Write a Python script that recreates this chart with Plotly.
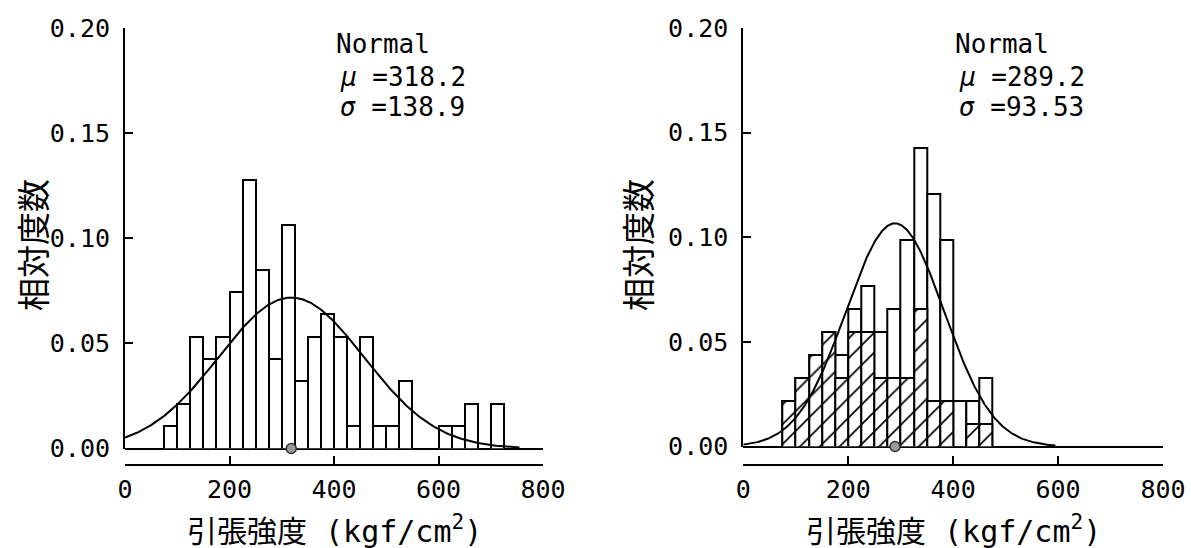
import numpy as np
import plotly.graph_objects as go

# ---- data -------------------------------------------------------------
bin_width = 25

# left sample: tensile-strength histogram (counts per 25 kgf/cm2 bin)
left_bin_start = [75, 100, 125, 150, 175, 200, 225, 250, 275, 300, 325, 350, 375,
                  400, 425, 450, 475, 500, 525, 550, 575, 600, 625, 650, 675, 700]
left_counts = [1, 2, 5, 4, 5, 7, 12, 8, 4, 10, 3, 5, 6,
               5, 1, 5, 1, 1, 3, 0, 0, 1, 1, 2, 0, 2]
left_mu, left_sigma = 318.2, 138.9
left_curve_end = 755

# right sample: total counts and the hatched sub-group
right_bin_start = [75, 100, 125, 150, 175, 200, 225, 250, 275, 300, 325, 350, 375,
                   400, 425, 450]
right_total = [2, 3, 4, 5, 4, 6, 7, 5, 6, 9, 13, 11, 9, 2, 2, 3]
right_hatched = [2, 3, 4, 5, 3, 5, 5, 3, 3, 3, 6, 2, 2, 0, 1, 1]
right_mu, right_sigma = 289.2, 93.53
right_curve_end = 595

x_ticks = [0, 200, 400, 600, 800]
y_ticks = [0.00, 0.05, 0.10, 0.15, 0.20]
y_title = "相対度数"
x_title = "引張強度 (kgf/cm<sup>2</sup>)"

# ---- figure -----------------------------------------------------------
W, H = 1191, 548
MONO = "DejaVu Sans Mono, Noto Sans CJK JP"
CJK = "Noto Sans CJK JP"


def px_x(p):
    return p / W


def px_y(p):
    return 1 - p / H


def normal_curve(mu, sigma, x_end):
    x = np.linspace(0, x_end, 400)
    y = bin_width * np.exp(-0.5 * ((x - mu) / sigma) ** 2) / (sigma * np.sqrt(2 * np.pi))
    return x, y


fig = go.Figure()

bar_line = dict(color="black", width=2)
marker_dot = dict(size=10, color="#9a9a9a", line=dict(color="#333", width=1.5))

# left panel
n_left = sum(left_counts)
fig.add_trace(go.Bar(
    x=[s + bin_width / 2 for s in left_bin_start],
    y=[c / n_left for c in left_counts],
    width=bin_width, marker=dict(color="white", line=bar_line),
    xaxis="x", yaxis="y", showlegend=False))
cx, cy = normal_curve(left_mu, left_sigma, left_curve_end)
fig.add_trace(go.Scatter(x=cx, y=cy, mode="lines", line=dict(color="black", width=2),
                         xaxis="x", yaxis="y", showlegend=False))
fig.add_trace(go.Scatter(x=[left_mu], y=[0], mode="markers", cliponaxis=False,
                         marker=marker_dot, xaxis="x", yaxis="y", showlegend=False))

# right panel
n_right = sum(right_total)
fig.add_trace(go.Bar(
    x=[s + bin_width / 2 for s in right_bin_start],
    y=[c / n_right for c in right_total],
    width=bin_width, marker=dict(color="white", line=bar_line),
    xaxis="x2", yaxis="y2", showlegend=False))
fig.add_trace(go.Bar(
    x=[s + bin_width / 2 for s in right_bin_start],
    y=[c / n_right for c in right_hatched],
    width=bin_width,
    marker=dict(color="white", line=bar_line,
                pattern=dict(shape="/", fgcolor="black", bgcolor="white",
                             fgopacity=1, size=14, solidity=0.12)),
    xaxis="x2", yaxis="y2", showlegend=False))
cx, cy = normal_curve(right_mu, right_sigma, right_curve_end)
fig.add_trace(go.Scatter(x=cx, y=cy, mode="lines", line=dict(color="black", width=2),
                         xaxis="x2", yaxis="y2", showlegend=False))
fig.add_trace(go.Scatter(x=[right_mu], y=[0], mode="markers", cliponaxis=False,
                         marker=marker_dot, xaxis="x2", yaxis="y2", showlegend=False))


def x_axis(domain, position):
    return dict(domain=domain, range=[0, 800], anchor="free", position=position,
                automargin=False,
                showline=True, linecolor="black", linewidth=2,
                ticks="inside", ticklen=8, tickwidth=2, tickcolor="black",
                tickvals=x_ticks, showgrid=False, zeroline=False,
                tickfont=dict(family=MONO, size=25, color="black"),
                ticklabelstandoff=2)


def y_axis(domain, anchor):
    return dict(domain=domain, range=[0, 0.2], anchor=anchor,
                automargin=False,
                showline=True, linecolor="black", linewidth=2,
                ticks="inside", ticklen=8, tickwidth=2, tickcolor="black",
                tickvals=y_ticks, tickformat=".2f", showgrid=False,
                zeroline=True, zerolinecolor="black", zerolinewidth=2,
                tickfont=dict(family=MONO, size=25, color="black"),
                ticklabelstandoff=8)


axis_line_y = px_y(465)
fig.update_layout(
    width=W, height=H, margin=dict(l=0, r=0, t=0, b=0, autoexpand=False),
    paper_bgcolor="white", plot_bgcolor="white",
    barmode="overlay", bargap=0,
    xaxis=x_axis([px_x(125), px_x(543)], axis_line_y),
    yaxis=y_axis([px_y(448.5), px_y(28)], "x"),
    xaxis2=x_axis([px_x(743.3), px_x(1163)], axis_line_y),
    yaxis2=y_axis([px_y(446.5), px_y(28)], "x2"),
)

annotations = []
for xr, yr, mu, sigma in (("x", "y", left_mu, left_sigma),
                          ("x2", "y2", right_mu, right_sigma)):
    lines = [("Normal", 400, 0.1924),
             (f"<i>μ</i> ={mu:g}", 408, 0.1767),
             (f"<i>σ</i> ={sigma:g}", 408, 0.1624)]
    for txt, xv, yv in lines:
        annotations.append(dict(text=txt, x=xv, y=yv, xref=xr, yref=yr,
                                xanchor="left", yanchor="middle", showarrow=False,
                                font=dict(family=MONO, size=26, color="black")))
    # x-axis title
    annotations.append(dict(text=x_title, x=400, xref=xr, y=px_y(529), yref="paper",
                            xanchor="center", yanchor="middle", showarrow=False,
                            font=dict(family=MONO, size=30, color="black")))

for xc in (32, 637):
    annotations.append(dict(text=y_title, x=px_x(xc), y=px_y(245), xref="paper", yref="paper",
                            xanchor="center", yanchor="middle", textangle=-90, showarrow=False,
                            font=dict(family=CJK, size=33, color="black")))

fig.update_layout(annotations=annotations)

fig.write_html("out.html")
